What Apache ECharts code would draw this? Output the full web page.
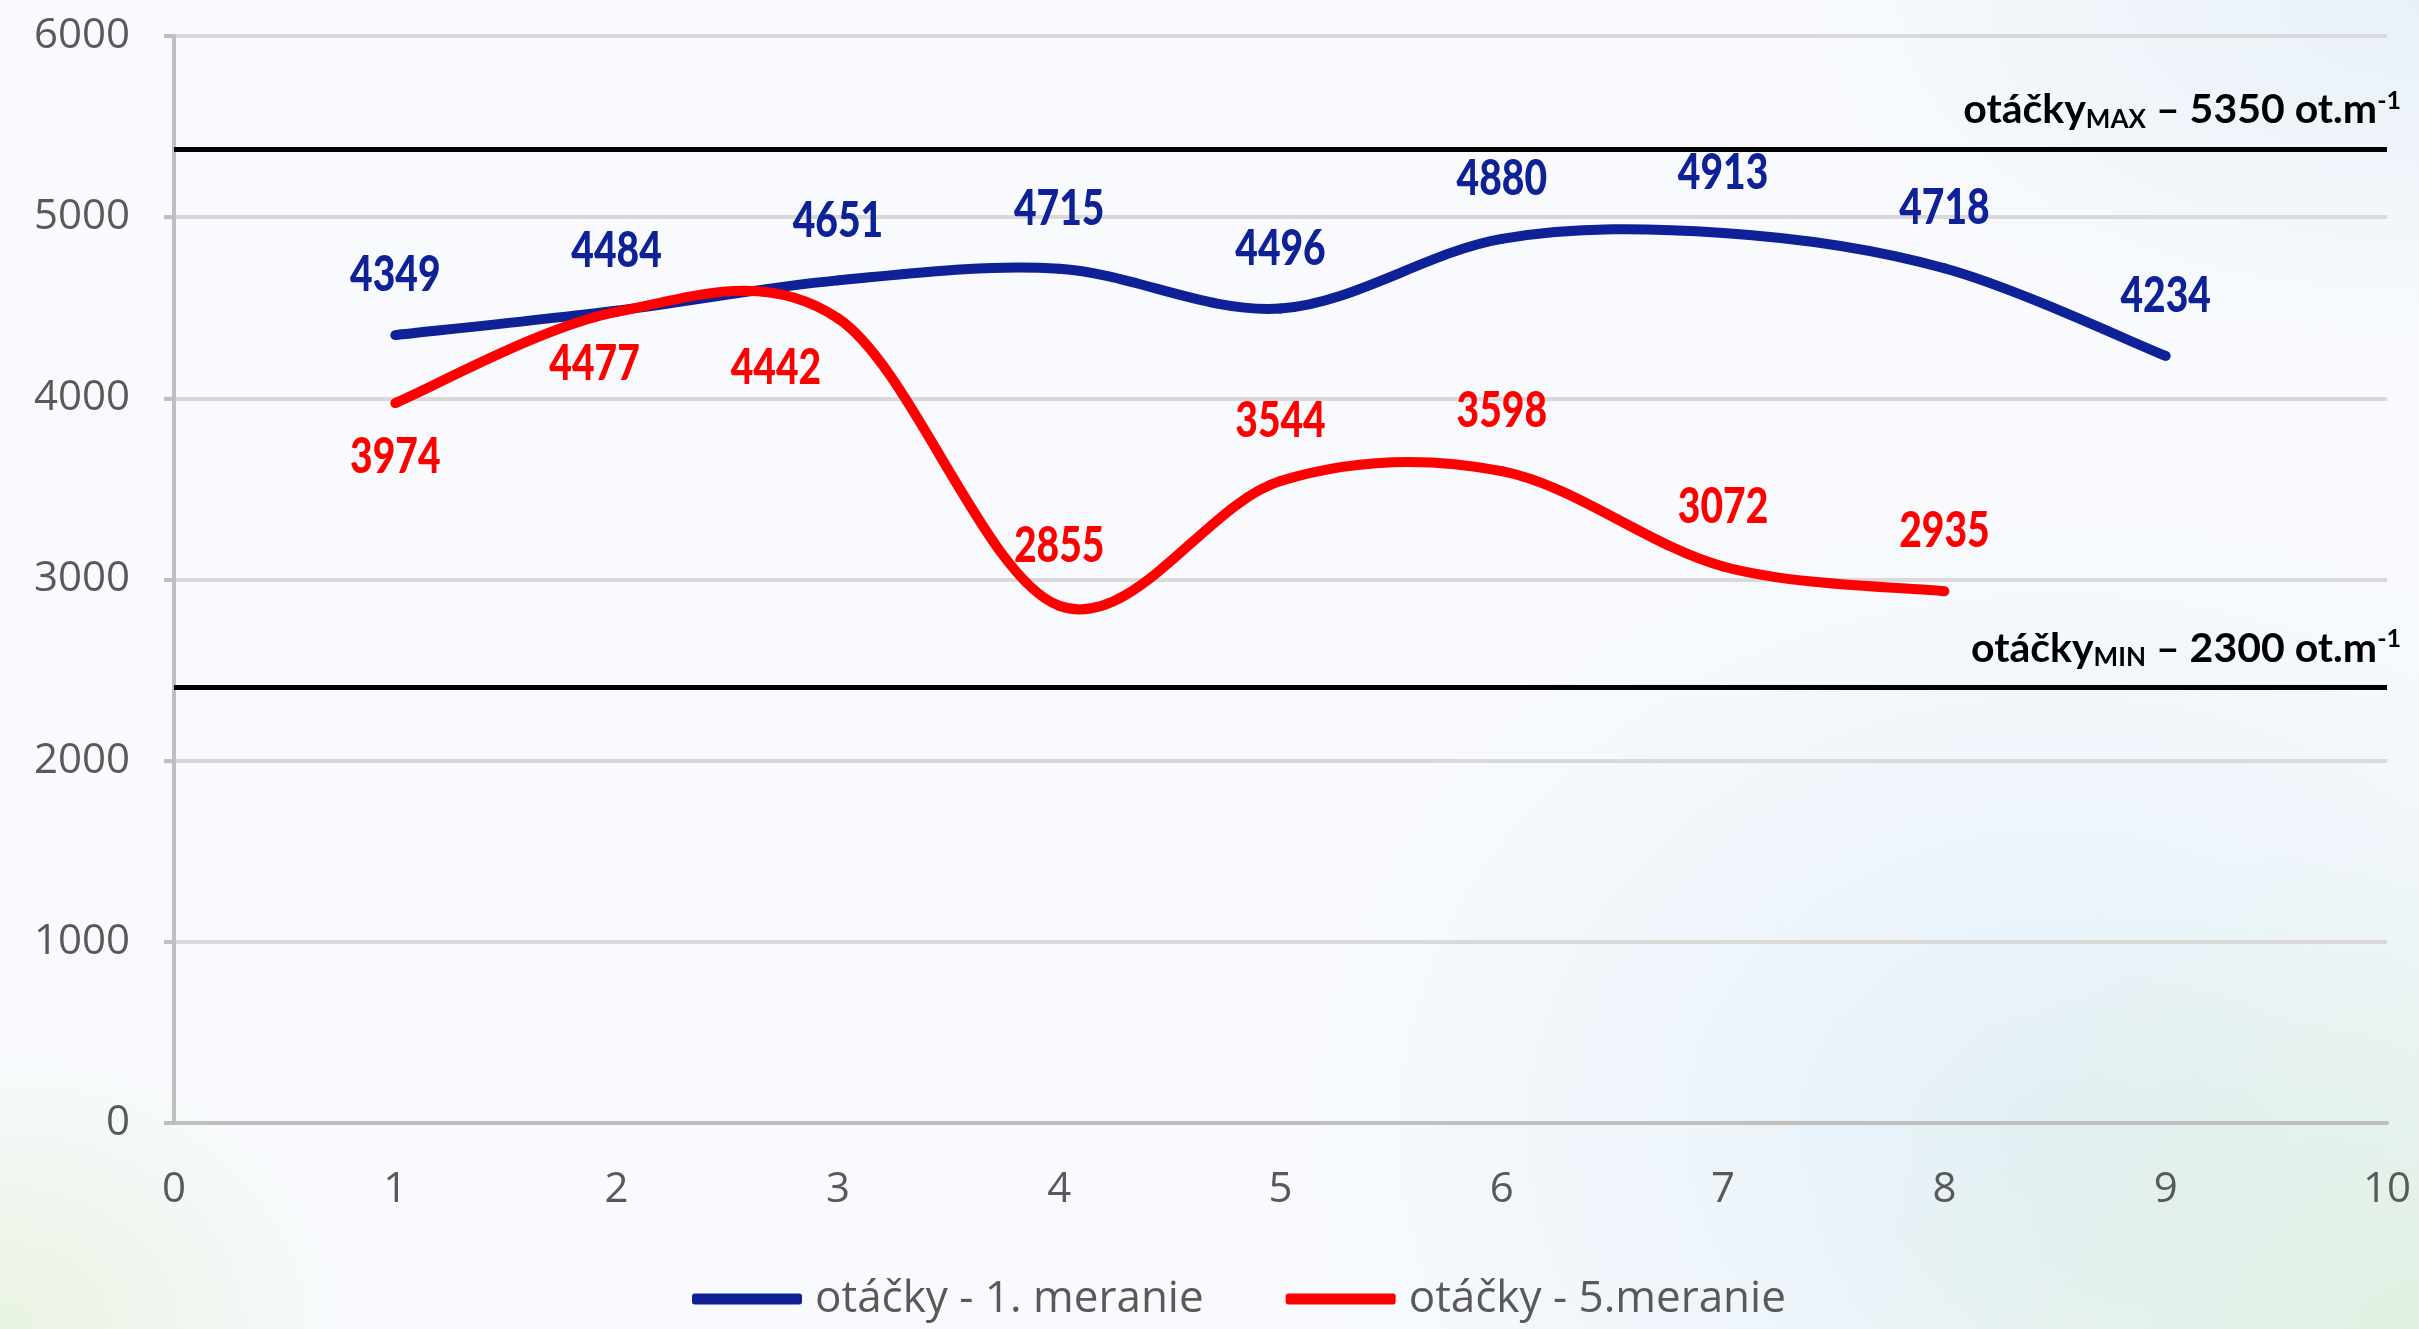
<!DOCTYPE html>
<html>
<head>
<meta charset="utf-8">
<title>otáčky</title>
<script src="https://cdn.jsdelivr.net/npm/echarts@6/dist/echarts.min.js"></script>
<style>
  html, body { margin: 0; padding: 0; }
  body {
    width: 2419px; height: 1329px; overflow: hidden;
    background:
      radial-gradient(ellipse 900px 700px at 100% 100%, rgba(214,236,206,0.55), rgba(255,255,255,0) 70%),
      radial-gradient(ellipse 1100px 900px at 85% 85%, rgba(205,228,243,0.45), rgba(255,255,255,0) 70%),
      radial-gradient(ellipse 500px 400px at 0% 100%, rgba(226,240,214,0.7), rgba(255,255,255,0) 70%),
      radial-gradient(ellipse 900px 500px at 100% 0%, rgba(225,236,246,0.7), rgba(255,255,255,0) 70%),
      #f8fafd;
  }
  #main { width: 2419px; height: 1329px; }
</style>
</head>
<body>
<div id="main"></div>
<script>
// merania (x = poradie merania)
var xValues = [1, 2, 3, 4, 5, 6, 7, 8, 9];
var meranie1 = [4349, 4484, 4651, 4715, 4496, 4880, 4913, 4718, 4234];
var meranie5 = [3974, 4477, 4442, 2855, 3544, 3598, 3072, 2935];
var seriesNames = ['otáčky - 1. meranie', 'otáčky - 5.meranie'];

// hranice otáčok: poloha čiary v grafe a text popisu
var limitLines = [5375, 2405];
var limitValues = ['5350', '2300'];
var limitTags = ['MAX', 'MIN'];

// osi
var xTicks = [0, 10, 1];
var yTicks = [0, 6000, 1000];

var BLUE = '#0e2196';
var RED = '#ff0000';

// vyhladená čiara ako v exceli (catmull-rom -> bezier) + popisky
// lbl: posun popisku v px [dx, dy] pre každý bod
function splineSeries(name, values, color, lbl) {
    return {
        name: name,
        type: 'custom',
        coordinateSystem: 'cartesian2d',
        itemStyle: { color: color },
        data: values.map(function (v, i) { return [xValues[i], v]; }),
        encode: { x: 0, y: 1 },
        renderItem: function (params, api) {
            var i = params.dataIndexInside;
            var n = params.dataInsideLength;
            function pt(k) {
                k = Math.max(0, Math.min(n - 1, k));
                return api.coord([api.value(0, k), api.value(1, k)]);
            }
            var p0 = pt(i - 1), p1 = pt(i), p2 = pt(i + 1), p3 = pt(i + 2);
            var children = [];
            if (i < n - 1) {
                children.push({
                    type: 'bezierCurve',
                    shape: {
                        x1: p1[0], y1: p1[1], x2: p2[0], y2: p2[1],
                        cpx1: p1[0] + (p2[0] - p0[0]) / 6,
                        cpy1: p1[1] + (p2[1] - p0[1]) / 6,
                        cpx2: p2[0] - (p3[0] - p1[0]) / 6,
                        cpy2: p2[1] - (p3[1] - p1[1]) / 6
                    },
                    style: { stroke: color, lineWidth: 10, fill: 'none', lineCap: 'round' }
                });
            }
            var off = lbl[i] || [0, -60];
            children.push({
                type: 'text',
                z2: 10,
                x: p1[0] + off[0],
                y: p1[1] + off[1],
                scaleX: 0.78,
                style: {
                    text: String(api.value(1, i)),
                    x: 0,
                    y: 0,
                    fill: color,
                    align: 'center',
                    verticalAlign: 'middle',
                    fontSize: 50,
                    fontWeight: 900,
                    fontFamily: 'Lato'
                }
            });
            return { type: 'group', children: children };
        }
    };
}

var s1 = splineSeries(seriesNames[0], meranie1, BLUE, []);
var s5 = splineSeries(seriesNames[1], meranie5, RED,
    [[0, 54], [-22, 52], [-62, 50]]);

s1.markLine = {
    silent: true,
    symbol: 'none',
    animation: false,
    lineStyle: { color: '#000', width: 5, type: 'solid' },
    data: limitLines.map(function (v, i) {
        return {
            yAxis: v,
            label: {
                show: true,
                position: 'insideEndTop',
                distance: [-14, 17],
                formatter: '{a|otáčky}{b|' + limitTags[i] + '}{a| – ' + limitValues[i] + ' ot.m}{c|-1}',
                rich: {
                    a: { fontFamily: 'Lato', fontWeight: 'bold', fontSize: 41, color: '#000', lineHeight: 44, verticalAlign: 'middle' },
                    b: { fontFamily: 'Lato', fontWeight: 'bold', fontSize: 26, color: '#000', lineHeight: 26, verticalAlign: 'bottom' },
                    c: { fontFamily: 'Lato', fontWeight: 'bold', fontSize: 25, color: '#000', lineHeight: 26, verticalAlign: 'top' }
                }
            }
        };
    })
};

var chart = echarts.init(document.getElementById('main'));
var option = {
    animation: false,
    backgroundColor: 'transparent',
    grid: { left: 174, right: 32, top: 36, bottom: 206, containLabel: false },
    legend: {
        data: seriesNames,
        left: 687,
        top: 1272,
        icon: 'roundRect',
        itemWidth: 110,
        itemHeight: 11,
        itemGap: 82,
        textStyle: { fontFamily: 'Open Sans', fontSize: 44, color: '#595959', padding: [0, 0, 0, 8] }
    },
    xAxis: {
        type: 'value',
        min: xTicks[0], max: xTicks[1], interval: xTicks[2],
        axisLine: { show: true, lineStyle: { color: '#bfbfbf', width: 4 } },
        axisTick: { show: false },
        splitLine: { show: false },
        axisLabel: { margin: 46, fontFamily: 'Open Sans', fontSize: 42, color: '#595959' }
    },
    yAxis: {
        type: 'value',
        min: yTicks[0], max: yTicks[1], interval: yTicks[2],
        axisLine: { show: true, lineStyle: { color: '#bfbfbf', width: 4 } },
        axisTick: { show: true, length: 10, lineStyle: { color: '#bfbfbf', width: 4 } },
        splitLine: { show: true, lineStyle: { color: '#d9d9d9', width: 4 } },
        axisLabel: {
            margin: 44, fontFamily: 'Open Sans', fontSize: 42, color: '#595959',
            formatter: function (v) { return String(v); }
        }
    },
    series: [s1, s5]
};
chart.setOption(option);
</script>
</body>
</html>
